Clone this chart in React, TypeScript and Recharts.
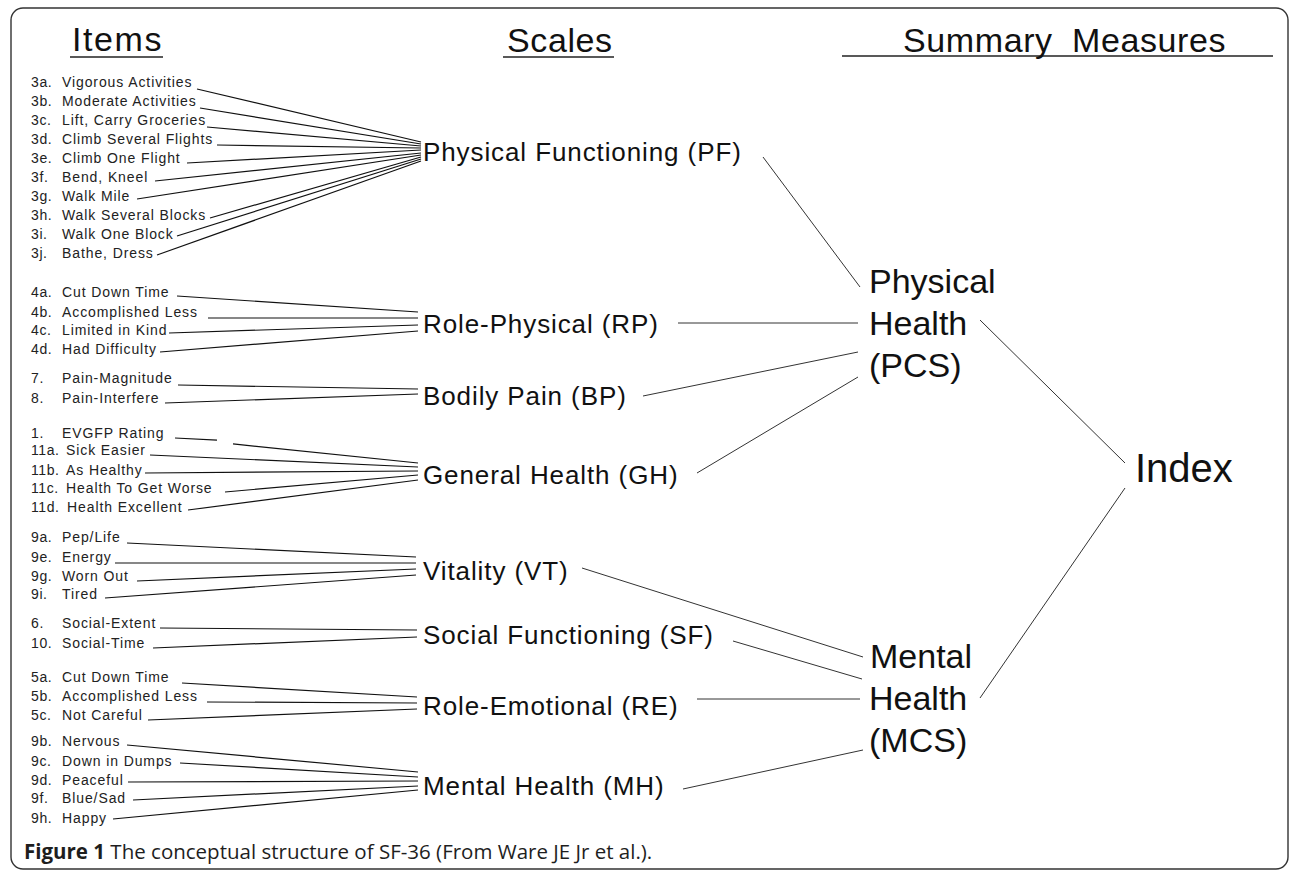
import React from 'react';
import { ScatterChart, XAxis, YAxis, Scatter, ReferenceLine, ReferenceArea } from 'recharts';

const W = 1290;
const H = 871;
const SANS = '"Liberation Sans", Arial, Helvetica, sans-serif';
const CAPTION_FONT = '"Open Sans", "Noto Sans", sans-serif';

// ---------- data (diagram coordinates) ----------
type Item = { num: string; name: string; y: number; sx: number; sy: number; ey: number; nx?: number };

const pfItems: Item[] = [
  { num: '3a.', name: 'Vigorous Activities', y: 82, sx: 197, sy: 89, ey: 142 },
  { num: '3b.', name: 'Moderate Activities', y: 101, sx: 200, sy: 108, ey: 144 },
  { num: '3c.', name: 'Lift, Carry Groceries', y: 120, sx: 207, sy: 127, ey: 146 },
  { num: '3d.', name: 'Climb Several Flights', y: 139, sx: 217, sy: 145, ey: 148 },
  { num: '3e.', name: 'Climb One Flight', y: 158, sx: 187, sy: 163, ey: 150 },
  { num: '3f.', name: 'Bend, Kneel', y: 177, sx: 155, sy: 181, ey: 153 },
  { num: '3g.', name: 'Walk Mile', y: 196, sx: 137, sy: 199, ey: 155 },
  { num: '3h.', name: 'Walk Several Blocks', y: 215, sx: 210, sy: 218, ey: 157 },
  { num: '3i.', name: 'Walk One Block', y: 234, sx: 177, sy: 236, ey: 159 },
  { num: '3j.', name: 'Bathe, Dress', y: 253, sx: 157, sy: 255, ey: 161 },
];
const rpItems: Item[] = [
  { num: '4a.', name: 'Cut Down Time', y: 292, sx: 177, sy: 296, ey: 312 },
  { num: '4b.', name: 'Accomplished Less', y: 312, sx: 208, sy: 318, ey: 318 },
  { num: '4c.', name: 'Limited in Kind', y: 330, sx: 169, sy: 333, ey: 325 },
  { num: '4d.', name: 'Had Difficulty', y: 349, sx: 160, sy: 352, ey: 331 },
];
const bpItems: Item[] = [
  { num: '7.', name: 'Pain-Magnitude', y: 378, sx: 178, sy: 385, ey: 389 },
  { num: '8.', name: 'Pain-Interfere', y: 398, sx: 165, sy: 403, ey: 394 },
];
const ghItems: Item[] = [
  { num: '1.', name: 'EVGFP Rating', y: 433, sx: 175, sy: 438, ey: 463 },
  { num: '11a.', name: 'Sick Easier', y: 450, sx: 150, sy: 455, ey: 467, nx: 66 },
  { num: '11b.', name: 'As Healthy', y: 470, sx: 145, sy: 473, ey: 471, nx: 66 },
  { num: '11c.', name: 'Health To Get Worse', y: 488, sx: 225, sy: 492, ey: 475, nx: 66 },
  { num: '11d.', name: 'Health Excellent', y: 507, sx: 188, sy: 510, ey: 480, nx: 67 },
];
const vtItems: Item[] = [
  { num: '9a.', name: 'Pep/Life', y: 537, sx: 127, sy: 543, ey: 557 },
  { num: '9e.', name: 'Energy', y: 557, sx: 115, sy: 563, ey: 563 },
  { num: '9g.', name: 'Worn Out', y: 576, sx: 137, sy: 581, ey: 569 },
  { num: '9i.', name: 'Tired', y: 594, sx: 105, sy: 598, ey: 575 },
];
const sfItems: Item[] = [
  { num: '6.', name: 'Social-Extent', y: 623, sx: 160, sy: 628, ey: 630 },
  { num: '10.', name: 'Social-Time', y: 643, sx: 153, sy: 648, ey: 637 },
];
const reItems: Item[] = [
  { num: '5a.', name: 'Cut Down Time', y: 677, sx: 182, sy: 683, ey: 697 },
  { num: '5b.', name: 'Accomplished Less', y: 696, sx: 207, sy: 702, ey: 703 },
  { num: '5c.', name: 'Not Careful', y: 715, sx: 148, sy: 720, ey: 709 },
];
const mhItems: Item[] = [
  { num: '9b.', name: 'Nervous', y: 741, sx: 127, sy: 745, ey: 772 },
  { num: '9c.', name: 'Down in Dumps', y: 761, sx: 180, sy: 763, ey: 777 },
  { num: '9d.', name: 'Peaceful', y: 780, sx: 128, sy: 782, ey: 781 },
  { num: '9f.', name: 'Blue/Sad', y: 798, sx: 133, sy: 800, ey: 786 },
  { num: '9h.', name: 'Happy', y: 818, sx: 113, sy: 819, ey: 790 },
];

const scales = [
  { label: 'Physical Functioning (PF)', y: 161, ex: 421, items: pfItems, lx1: 763, ly1: 157, lx2: 860, ly2: 287 },
  { label: 'Role-Physical (RP)', y: 333, ex: 418, items: rpItems, lx1: 678, ly1: 323, lx2: 858, ly2: 323 },
  { label: 'Bodily Pain (BP)', y: 405, ex: 418, items: bpItems, lx1: 643, ly1: 396, lx2: 858, ly2: 352 },
  { label: 'General Health (GH)', y: 484, ex: 418, items: ghItems, lx1: 697, ly1: 473, lx2: 858, ly2: 377 },
  { label: 'Vitality (VT)', y: 580, ex: 416, items: vtItems, lx1: 582, ly1: 568, lx2: 863, ly2: 657 },
  { label: 'Social Functioning (SF)', y: 644, ex: 417, items: sfItems, lx1: 733, ly1: 641, lx2: 862, ly2: 679 },
  { label: 'Role-Emotional (RE)', y: 715, ex: 417, items: reItems, lx1: 697, ly1: 699, lx2: 860, ly2: 699 },
  { label: 'Mental Health (MH)', y: 795, ex: 418, items: mhItems, lx1: 683, ly1: 789, lx2: 863, ly2: 750 },
];

const summaryLines = [
  { label: 'Physical', x: 869, y: 293 },
  { label: 'Health', x: 869, y: 335 },
  { label: '(PCS)', x: 869, y: 377 },
  { label: 'Mental', x: 870, y: 668 },
  { label: 'Health', x: 869, y: 710 },
  { label: '(MCS)', x: 869, y: 752 },
];
const summaryLinks = [
  { x1: 980, y1: 320, x2: 1125, y2: 463 },
  { x1: 980, y1: 698, x2: 1125, y2: 488 },
];
const indexLabel = [{ label: 'Index', x: 1135, y: 482 }];

const headers = [
  { label: 'Items', x: 72, y: 51, ls: 1.6 },
  { label: 'Scales', x: 507, y: 52, ls: 0.6 },
  { label: 'Summary', x: 903, y: 52, ls: 0.6 },
  { label: 'Measures', x: 1072, y: 52, ls: 0.6 },
];
const headerRules = [
  { x1: 70, x2: 163, y: 57 },
  { x1: 503, x2: 614, y: 57 },
  { x1: 842, x2: 1273, y: 56 },
];
const captionBold = 'Figure 1';
const captionRest = ' The conceptual structure of SF-36 (From Ware JE Jr et al.).';
const captionPos = [{ x: 24, y: 859 }];

// EVGFP line is broken in the original
const evgfpGap = { x1: 217, x2: 233 };

// ---------- derived tables ----------
const allItems = scales.flatMap((s) => s.items);
const itemNums = allItems.map((it) => ({ x: 31, y: it.y + 5, label: it.num }));
const itemNames = allItems.map((it) => ({ x: it.nx ?? 62, y: it.y + 5, label: it.name }));
const scaleLabels = scales.map((s) => ({ x: 423, y: s.y, label: s.label }));

type Seg = { x1: number; y1: number; x2: number; y2: number };
const itemSegs: Seg[] = [];
scales.forEach((s) => {
  s.items.forEach((it) => {
    if (it.num === '1.') {
      const t1 = (evgfpGap.x1 - it.sx) / (s.ex - it.sx);
      const t2 = (evgfpGap.x2 - it.sx) / (s.ex - it.sx);
      itemSegs.push({ x1: it.sx, y1: it.sy, x2: evgfpGap.x1, y2: it.sy + (it.ey - it.sy) * t1 * 0.5 });
      itemSegs.push({ x1: evgfpGap.x2, y1: it.sy + (it.ey - it.sy) * t2, x2: s.ex, y2: it.ey });
    } else {
      itemSegs.push({ x1: it.sx, y1: it.sy, x2: s.ex, y2: it.ey });
    }
  });
});
const scaleSegs: Seg[] = scales.map((s) => ({ x1: s.lx1, y1: s.ly1, x2: s.lx2, y2: s.ly2 }));

const makeText =
  (fontSize: number, fill: string, letterSpacing = 0, family = SANS) =>
  (props: any) => {
    const { cx, cy, payload } = props;
    if (cx == null || cy == null) return <g />;
    return (
      <text
        x={cx}
        y={cy}
        fontSize={fontSize}
        fill={fill}
        fontFamily={family}
        letterSpacing={payload.ls ?? letterSpacing}
        textAnchor="start"
      >
        {payload.label}
      </text>
    );
  };

const captionShape = (props: any) => {
  const { cx, cy } = props;
  if (cx == null || cy == null) return <g />;
  return (
    <text x={cx} y={cy} fontSize={20.5} fill="#1e1e1e" fontFamily={CAPTION_FONT}>
      <tspan fontWeight="bold">{captionBold}</tspan>
      <tspan>{captionRest}</tspan>
    </text>
  );
};

export default function App() {
  return (
    <div style={{ position: 'absolute', left: 0, top: 0, width: W, height: H, background: '#fff' }}>
      <ScatterChart width={W} height={H} margin={{ top: 0, right: 0, bottom: 0, left: 0 }}>
        <XAxis type="number" dataKey="x" domain={[0, W]} hide allowDataOverflow />
        <YAxis type="number" dataKey="y" domain={[0, H]} reversed hide allowDataOverflow />

        <ReferenceArea
          x1={11}
          x2={1288}
          y1={8}
          y2={869}
          ifOverflow="visible"
          shape={(p: any) => (
            <rect x={p.x} y={p.y} width={p.width} height={p.height} rx={12} ry={12} fill="none" stroke="#333" strokeWidth={1.4} />
          )}
        />

        {headerRules.map((r, i) => (
          <ReferenceLine
            key={`hr${i}`}
            segment={[{ x: r.x1, y: r.y }, { x: r.x2, y: r.y }]}
            stroke="#222"
            strokeWidth={1.3}
            ifOverflow="visible"
          />
        ))}

        {itemSegs.map((s, i) => (
          <ReferenceLine
            key={`is${i}`}
            segment={[{ x: s.x1, y: s.y1 }, { x: s.x2, y: s.y2 }]}
            stroke="#111"
            strokeWidth={1.2}
            ifOverflow="visible"
          />
        ))}

        {scaleSegs.map((s, i) => (
          <ReferenceLine
            key={`ss${i}`}
            segment={[{ x: s.x1, y: s.y1 }, { x: s.x2, y: s.y2 }]}
            stroke="#333"
            strokeWidth={1}
            ifOverflow="visible"
          />
        ))}

        {summaryLinks.map((s, i) => (
          <ReferenceLine
            key={`sl${i}`}
            segment={[{ x: s.x1, y: s.y1 }, { x: s.x2, y: s.y2 }]}
            stroke="#333"
            strokeWidth={1}
            ifOverflow="visible"
          />
        ))}

        <Scatter data={headers} isAnimationActive={false} shape={makeText(34, '#111', 0.6)} />
        <Scatter data={itemNums} isAnimationActive={false} shape={makeText(14, '#222', 0.6)} />
        <Scatter data={itemNames} isAnimationActive={false} shape={makeText(14, '#222', 0.9)} />
        <Scatter data={scaleLabels} isAnimationActive={false} shape={makeText(26, '#111', 0.9)} />
        <Scatter data={summaryLines} isAnimationActive={false} shape={makeText(34, '#111', 0)} />
        <Scatter data={indexLabel} isAnimationActive={false} shape={makeText(40, '#111', 0)} />
        <Scatter data={captionPos} isAnimationActive={false} shape={captionShape} />
      </ScatterChart>
    </div>
  );
}
